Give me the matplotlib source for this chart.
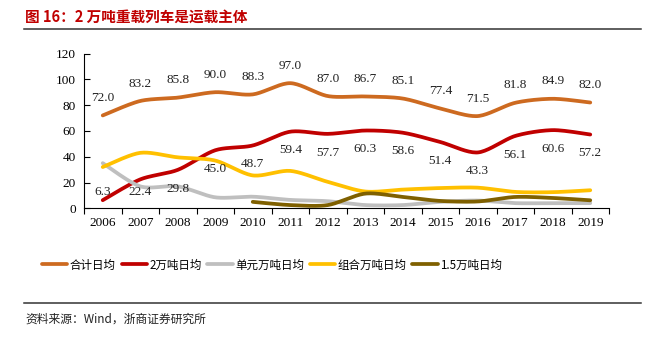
# 2万吨重载列车日均开行 - recreated chart

import numpy as np
import matplotlib
matplotlib.use('Agg')
import matplotlib.pyplot as plt
from matplotlib.lines import Line2D

years = ['2006', '2007', '2008', '2009', '2010', '2011', '2012',
         '2013', '2014', '2015', '2016', '2017', '2018', '2019']

total   = [72.0, 83.2, 85.8, 90.0, 88.3, 97.0, 87.0, 86.7, 85.1, 77.4, 71.5, 81.8, 84.9, 82.0]
heavy2w = [6.3, 22.4, 29.8, 45.0, 48.7, 59.4, 57.7, 60.3, 58.6, 51.4, 43.3, 56.1, 60.6, 57.2]
unit_w  = [35, 17, 17, 8.5, 9, 6.5, 5.5, 2.5, 2.5, 5, 6, 4, 4, 4]
combo_w = [32, 43, 39.5, 37, 25.5, 29, 20.5, 13, 14.5, 15.7, 16, 12.7, 12.5, 14]
w15_yrs = years[4:]
w15     = [5, 2.5, 2.5, 11.4, 8.8, 5.7, 5.3, 8.8, 8, 6.2]

names  = ['合计日均', '2万吨日均', '单元万吨日均', '组合万吨日均', '1.5万吨日均']
colors = ['#CD6A20', '#C00000', '#BFBFBF', '#FFC000', '#7F6000']

SERIF = ['Liberation Serif', 'Noto Sans CJK SC']
CJK = ['Noto Sans CJK SC', 'DejaVu Sans']


def smooth(xs, ys, n=20):
    # catmull-rom curve through the points, like excel's smoothed line
    xs = np.asarray(xs, float)
    ys = np.asarray(ys, float)
    px = np.concatenate([[xs[0]], xs, [xs[-1]]])
    py = np.concatenate([[ys[0]], ys, [ys[-1]]])
    ox, oy = [], []
    for i in range(1, len(px) - 2):
        t = np.linspace(0, 1, n, endpoint=False)
        for p, o in ((px, ox), (py, oy)):
            p0, p1, p2, p3 = p[i-1], p[i], p[i+1], p[i+2]
            m1 = (p2 - p0) / 2 * 0.85
            m2 = (p3 - p1) / 2 * 0.85
            h00 = 2*t**3 - 3*t**2 + 1
            h10 = t**3 - 2*t**2 + t
            h01 = -2*t**3 + 3*t**2
            h11 = t**3 - t**2
            o.extend(h00*p1 + h10*m1 + h01*p2 + h11*m2)
    ox.append(xs[-1])
    oy.append(ys[-1])
    return np.array(ox), np.array(oy)


fig = plt.figure(figsize=(6.45, 3.37), dpi=100)
ax = fig.add_axes([84/645, 1-208.3/337, (609-84)/645, (208.3-53.5)/337])

x_all = np.arange(len(years))
x_15 = np.arange(4, len(years))
series = [(x_all, total), (x_all, heavy2w), (x_all, unit_w), (x_all, combo_w), (x_15, w15)]
order = [2, 3, 4, 0, 1]
for k in order:
    xs, ys = series[k]
    sx, sy = smooth(xs, ys)
    ax.plot(sx, sy, color=colors[k], lw=2.7, solid_capstyle='round', zorder=2+k)

for i, v in enumerate(total):
    ax.text(i, v + 13.5, '%.1f' % v, ha='center', va='center', fontsize=9.5,
            family=SERIF, color='#222222')
for i, v in enumerate(heavy2w):
    ax.text(i, max(v - 14.5, 12.5), '%.1f' % v, ha='center', va='center', fontsize=9.5,
            family=SERIF, color='#222222', zorder=10)

ax.set_xlim(-0.5, len(years) - 0.5)
ax.set_ylim(0, 120)
ax.set_yticks(range(0, 121, 20))
ax.set_xticks(np.arange(-0.5, len(years)))
ax.set_xticklabels([])
ax.set_xticks(x_all, minor=True)
ax.set_xticklabels(years, minor=True, family=SERIF, fontsize=9.5)
ax.tick_params(axis='x', which='minor', length=0, pad=6)
ax.tick_params(axis='x', which='major', direction='out', length=4, width=0.8)
ax.tick_params(axis='y', direction='in', length=4, width=0.8, pad=6, labelsize=9.5)
for lab in ax.get_yticklabels():
    lab.set_family(SERIF)
for s in ['top', 'right']:
    ax.spines[s].set_visible(False)
for s in ['left', 'bottom']:
    ax.spines[s].set_color('black')
    ax.spines[s].set_linewidth(0.8)

handles = [Line2D([], [], color=c, lw=2.7, solid_capstyle='round') for c in colors]
fig.legend(handles, names, loc='center', bbox_to_anchor=(272/645, 1-265/337), ncol=5,
           frameon=False, handlelength=2.2, handletextpad=0.2, columnspacing=0.5,
           prop={'family': CJK, 'size': 8.3})

fig.text(25/645, 1-17/337, '图 16：2 万吨重载列车是运载主体', ha='left', va='center',
         fontsize=10.5, fontweight='bold', color='#C00000', family=CJK)
fig.add_artist(Line2D([24/645, 641/645], [1-29.3/337]*2, color='#333333', lw=1.1))
fig.add_artist(Line2D([24/645, 641/645], [1-303.3/337]*2, color='#333333', lw=1.1))
fig.text(25/645, 1-319/337, '资料来源：Wind，浙商证券研究所', ha='left', va='center',
         fontsize=8.5, color='#222222', family=CJK)

fig.savefig('out.png', dpi=100)
